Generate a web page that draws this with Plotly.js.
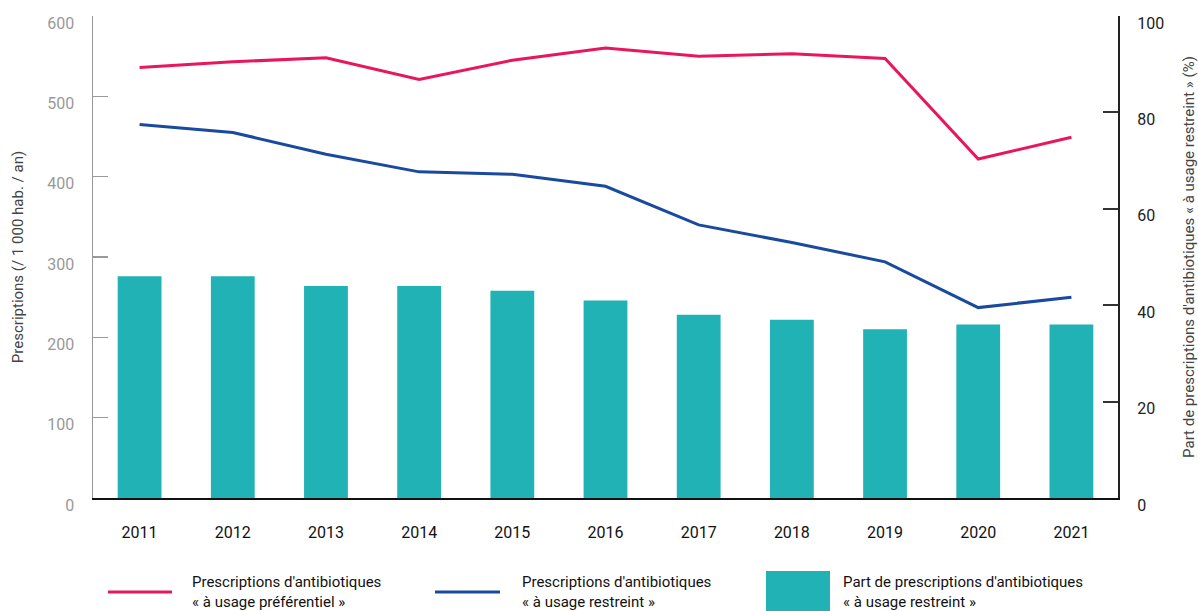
<!DOCTYPE html>
<html>
<head>
<meta charset="utf-8">
<script src="https://cdn.plot.ly/plotly-3.0.1.min.js"></script>
<style>html,body{margin:0;padding:0;background:#fff;}#chart{width:1198px;height:611px;}</style>
</head>
<body>
<div id="chart"></div>
<script>
const years = ["2011","2012","2013","2014","2015","2016","2017","2018","2019","2020","2021"];
const preferentiel = [536, 543, 548, 521, 545, 560, 550, 553, 547, 422, 449];
const restreint = [465, 455, 428, 406, 403, 388, 340, 318, 294, 237, 250];
const partRestreint = [46, 46, 44, 44, 43, 41, 38, 37, 35, 36, 36];
const legendLabels = [
  "Prescriptions d'antibiotiques<br>« à usage préférentiel »",
  "Prescriptions d'antibiotiques<br>« à usage restreint »",
  "Part de prescriptions d'antibiotiques<br>« à usage restreint »"
];

const FONT = "Roboto, 'DejaVu Sans', sans-serif";
const PINK = "#E8175D", BLUE = "#1A4A9E", TEAL = "#20B2B4";

const traces = [
  {type:"bar", x: years, y: partRestreint, yaxis:"y", marker:{color:TEAL}, width:0.47, name:"part", hoverinfo:"x+y"},
  {type:"scatter", mode:"lines", x: years, y: preferentiel, yaxis:"y2", line:{color:PINK, width:3}, name:"pref"},
  {type:"scatter", mode:"lines", x: years, y: restreint, yaxis:"y2", line:{color:BLUE, width:3}, name:"restr"}
];

// px -> paper helpers for legend (plot area 93..1118 x, 16..498 y)
const L = 93, R = 1118, T = 16, B = 498;
const px = v => (v - L) / (R - L);
const py = v => (B - v) / (B - T);

const layout = {
  width:1198, height:611,
  margin:{l:L, r:1198-R, t:T, b:611-B},
  paper_bgcolor:"#fff", plot_bgcolor:"#fff",
  showlegend:false,
  font:{family:FONT, size:15, color:"#222"},
  bargap:0.5,
  xaxis:{type:"category", range:[-0.5,10.5], showgrid:false, zeroline:false,
         showline:true, linecolor:"#111", linewidth:2, ticks:"",
         tickfont:{family:FONT, size:16, color:"#111"}, ticklabelstandoff:19, fixedrange:true},
  yaxis:{side:"right", range:[0,100], tickvals:[0,20,40,60,80,100], showgrid:false, zeroline:false,
         showline:true, linecolor:"#222", linewidth:2, ticks:"inside", ticklen:15, tickwidth:2, tickcolor:"#333",
         tickfont:{family:FONT, size:16, color:"#222"}, ticklabelstandoff:14, ticklabelshift:7,
         title:{text:"Part de prescriptions d'antibiotiques « à usage restreint » (%)", font:{family:FONT, size:15, color:"#444"}, standoff:28}},
  yaxis2:{side:"left", overlaying:"y", range:[0,600], tickvals:[0,100,200,300,400,500,600], showgrid:false, zeroline:false,
         showline:true, linecolor:"#999", linewidth:1.5, ticks:"inside", ticklen:15, tickwidth:1.5, tickcolor:"#999",
         tickfont:{family:FONT, size:16, color:"#999"}, ticklabelstandoff:14, ticklabelshift:7,
         title:{text:"Prescriptions (/ 1 000 hab. / an)", font:{family:FONT, size:15, color:"#444"}, standoff:20}},
  shapes:[
    {type:"line", xref:"paper", yref:"paper", x0:px(108), x1:px(172), y0:py(592), y1:py(592), line:{color:PINK, width:3}},
    {type:"line", xref:"paper", yref:"paper", x0:px(435), x1:px(500), y0:py(592), y1:py(592), line:{color:BLUE, width:3}},
    {type:"rect", xref:"paper", yref:"paper", x0:px(766), x1:px(830), y0:py(571), y1:py(611), fillcolor:TEAL, line:{width:0}}
  ],
  annotations:[
    {xref:"paper", yref:"paper", x:px(190), y:py(592), xanchor:"left", yanchor:"middle", align:"left", showarrow:false, text:legendLabels[0], font:{family:FONT, size:15, color:"#111"}},
    {xref:"paper", yref:"paper", x:px(520), y:py(592), xanchor:"left", yanchor:"middle", align:"left", showarrow:false, text:legendLabels[1], font:{family:FONT, size:15, color:"#111"}},
    {xref:"paper", yref:"paper", x:px(841), y:py(592), xanchor:"left", yanchor:"middle", align:"left", showarrow:false, text:legendLabels[2], font:{family:FONT, size:15, color:"#111"}}
  ]
};

Plotly.newPlot("chart", traces, layout, {displayModeBar:false, staticPlot:true});
</script>
</body>
</html>
